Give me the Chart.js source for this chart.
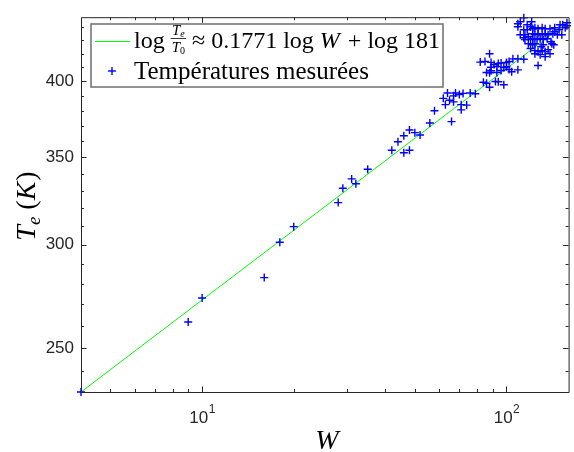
<!DOCTYPE html>
<html lang="fr">
<head>
<meta charset="UTF-8">
<title>Te en fonction de W</title>
<script src="https://cdn.jsdelivr.net/npm/chart.js"></script>
<style>
  html, body { margin: 0; padding: 0; background: #fff; }
</style>
</head>
<body>
<canvas id="tempChart" width="574" height="452"></canvas>
<script>
  // mesures (W, Te)
  const wMeasured = [
    4, 9, 10, 16, 18, 20, 28, 29, 31, 32, 35, 42, 44, 46, 46, 48, 48, 50, 52, 56, 58, 66,
    62, 64, 63, 65, 67, 68, 67, 70, 71, 71, 72, 74, 76, 79,
    88, 82, 85, 89, 91, 94, 96, 93, 89, 89, 86, 88, 93, 96, 98, 100, 102, 105, 109, 114,
    102, 104, 109, 84, 86, 92, 94, 88, 98, 100,
    114, 109, 111, 109, 117, 120, 114, 117, 122, 124, 127, 131, 134, 139, 144, 150, 153, 158,
    111, 115, 118, 122, 124, 127, 131, 134, 137, 142, 147, 152,
    115, 120, 122, 126, 129, 132, 136, 140, 118, 122, 124, 132, 141, 143,
    120, 124, 127, 131, 134, 137, 124, 129, 134, 139, 127, 144, 149, 156, 121, 114, 158, 130
  ];
  const tMeasured = [
    231.4, 261.8, 273.1, 283.1, 301.3, 309.7, 323.1, 331.4, 336.9, 334.0, 342.7, 354.3, 359.7, 363.5, 352.8, 367.2, 354.3, 365.5, 364.0, 371.8, 379.9, 372.7,
    388.3, 392.0, 384.0, 387.0, 390.0, 392.0, 385.9, 390.9, 384.0, 380.5, 391.7, 383.7, 392.0, 391.5,
    420.0, 413.9, 414.3, 413.7, 412.2, 412.8, 413.3, 410.7, 410.2, 407.6, 406.4, 406.2, 406.4, 407.8, 410.0, 413.6, 414.3, 416.3, 416.3, 416.0,
    408.5, 406.9, 408.3, 399.5, 398.8, 400.0, 399.8, 396.0, 397.7, 410.5,
    447.5, 442.9, 444.4, 440.5, 442.1, 440.5, 438.2, 438.2, 439.0, 439.8, 439.0, 439.8, 439.0, 439.0, 439.8, 442.1, 442.1, 443.6,
    434.4, 434.4, 432.8, 435.1, 434.4, 435.1, 434.4, 435.1, 434.4, 435.1, 434.4, 434.4,
    430.6, 430.6, 431.3, 430.6, 431.3, 430.6, 431.3, 429.0, 427.5, 426.8, 427.5, 426.8, 427.5, 426.8,
    423.9, 422.4, 421.6, 422.4, 421.6, 423.1, 420.1, 419.4, 417.9, 420.1, 411.4, 436.7, 438.2, 439.8, 444.4, 432.1, 441.3, 425.3
  ];

  // droite de regression : log(Te/T0) = 0.1771 log W + log 181
  const fitW = [4, 160];
  const fitT = [231.4, 444.7];

  const xMajorTicks = [10, 100];
  const xMinorTicks = [5, 6, 7, 8, 9, 20, 30, 40, 50, 60, 70, 80, 90];
  const yMajorTicks = [250, 300, 350, 400];
  const yMinorTicks = [240, 260, 270, 280, 290, 310, 320, 330, 340, 360, 370, 380, 390, 410, 420, 430, 440];

  const axisColor = '#262626';
  const serif = '"Liberation Serif", "DejaVu Serif", serif';
  const sans = '"Liberation Sans", Arial, sans-serif';

  function drawPieces(ctx, x, y, pieces) {
    pieces.forEach(p => {
      ctx.font = p.font;
      ctx.fillText(p.text, x, y + (p.dy || 0));
      x += ctx.measureText(p.text).width + (p.gap || 0);
    });
    return x;
  }

  function piecesWidth(ctx, pieces) {
    let w = 0;
    pieces.forEach(p => { ctx.font = p.font; w += ctx.measureText(p.text).width + (p.gap || 0); });
    return w;
  }

  const frame = {
    id: 'frame',
    afterDraw(chart) {
      const { ctx, chartArea: a, scales: { x, y } } = chart;
      ctx.save();
      ctx.strokeStyle = axisColor;
      ctx.lineWidth = 1;
      ctx.beginPath();
      ctx.rect(a.left + 0.5, a.top + 0.5, a.right - a.left, a.bottom - a.top);
      ctx.stroke();

      const seg = (x1, y1, x2, y2) => { ctx.beginPath(); ctx.moveTo(x1, y1); ctx.lineTo(x2, y2); ctx.stroke(); };
      const tickX = (v, len) => {
        const px = Math.round(x.getPixelForValue(v)) + 0.5;
        seg(px, a.bottom, px, a.bottom - len);
        seg(px, a.top, px, a.top + len);
      };
      const tickY = (v, len) => {
        const py = Math.round(y.getPixelForValue(v)) + 0.5;
        seg(a.left, py, a.left + len, py);
        seg(a.right, py, a.right - len, py);
      };
      xMajorTicks.forEach(v => tickX(v, 5.5));
      xMinorTicks.forEach(v => tickX(v, 3));
      yMajorTicks.forEach(v => tickY(v, 5.5));
      yMinorTicks.forEach(v => tickY(v, 3));

      // x tick labels 10^n
      ctx.fillStyle = axisColor;
      ctx.textBaseline = 'alphabetic';
      xMajorTicks.forEach(v => {
        const px = x.getPixelForValue(v);
        const exp = String(Math.round(Math.log10(v)));
        ctx.font = '17px ' + sans;
        const wb = ctx.measureText('10').width;
        ctx.font = '12px ' + sans;
        const we = ctx.measureText(exp).width;
        const x0 = px - (wb + we) / 2;
        ctx.font = '17px ' + sans;
        ctx.fillText('10', x0, 423);
        ctx.font = '12px ' + sans;
        ctx.fillText(exp, x0 + wb + 0.5, 413);
      });

      // axis titles
      ctx.fillStyle = '#000';
      ctx.font = 'italic 28px ' + serif;
      ctx.textAlign = 'center';
      ctx.fillText('W', (a.left + a.right) / 2 + 2, 449);
      ctx.textAlign = 'left';

      const yTitle = [
        { text: 'T', font: 'italic 28px ' + serif },
        { text: 'e', font: 'italic 19px ' + serif, dy: 5, gap: 7 },
        { text: '(', font: '28px ' + serif },
        { text: 'K', font: 'italic 28px ' + serif, gap: 1 },
        { text: ')', font: '28px ' + serif }
      ];
      ctx.save();
      ctx.translate(35, 206);
      ctx.rotate(-Math.PI / 2);
      drawPieces(ctx, -piecesWidth(ctx, yTitle) / 2, 0, yTitle);
      ctx.restore();

      // legend
      ctx.fillStyle = '#fff';
      ctx.fillRect(91, 24, 352, 63);
      ctx.strokeStyle = '#6e6e6e';
      ctx.lineWidth = 1.5;
      ctx.strokeRect(91, 24, 352, 63);

      ctx.strokeStyle = '#00ff00';
      ctx.lineWidth = 1;
      seg(95, 41.5, 130, 41.5);
      ctx.strokeStyle = '#0000ff';
      ctx.lineWidth = 1.4;
      seg(108, 71, 116, 71);
      seg(112, 67, 112, 75);

      ctx.fillStyle = '#000';
      let cx = drawPieces(ctx, 134, 48, [{ text: 'log', font: '24px ' + serif, gap: 6 }]);
      const num = [{ text: 'T', font: 'italic 15px ' + serif }, { text: 'e', font: 'italic 10px ' + serif, dy: 2 }];
      const den = [{ text: 'T', font: 'italic 15px ' + serif }, { text: '0', font: '10px ' + serif, dy: 2 }];
      const fw = Math.max(piecesWidth(ctx, num), piecesWidth(ctx, den)) + 2;
      drawPieces(ctx, cx + (fw - piecesWidth(ctx, num)) / 2, 35, num);
      drawPieces(ctx, cx + (fw - piecesWidth(ctx, den)) / 2, 52, den);
      ctx.fillRect(cx, 38, fw, 0.8);
      cx += fw;
      drawPieces(ctx, cx, 48, [
        { text: ' \u2248 0.1771 log ', font: '24px ' + serif },
        { text: 'W', font: 'italic 24px ' + serif, gap: 2 },
        { text: ' + log 181', font: '24px ' + serif }
      ]);
      drawPieces(ctx, 134, 79, [{ text: 'Températures mesurées', font: '25px ' + serif }]);
      ctx.restore();
    }
  };

  const measured = wMeasured.map((w, i) => ({ x: w, y: tMeasured[i] }));
  const fit = fitW.map((w, i) => ({ x: w, y: fitT[i] }));

  new Chart(document.getElementById('tempChart'), {
    type: 'scatter',
    data: {
      datasets: [
        {
          label: 'Températures mesurées',
          data: measured,
          pointStyle: 'cross',
          pointRadius: 4,
          pointHoverRadius: 4,
          borderColor: '#0000ff',
          backgroundColor: '#0000ff',
          borderWidth: 1.4,
          clip: false,
          order: 0
        },
        {
          type: 'line',
          label: 'fit',
          data: fit,
          showLine: true,
          borderColor: '#00ff00',
          borderWidth: 1,
          pointRadius: 0,
          fill: false,
          order: 1
        }
      ]
    },
    options: {
      responsive: false,
      animation: false,
      events: [],
      layout: { padding: { top: 15.5, right: 0, left: 0, bottom: 0 } },
      plugins: { legend: { display: false }, tooltip: { enabled: false } },
      scales: {
        x: {
          type: 'logarithmic',
          min: 4,
          max: 160,
          grid: { display: false, drawTicks: false },
          border: { display: false },
          ticks: { display: false },
          afterBuildTicks: s => { s.ticks = xMajorTicks.map(v => ({ value: v })); },
          afterFit: s => { s.height = 60; }
        },
        y: {
          type: 'logarithmic',
          min: 231.4,
          max: 448,
          grid: { display: false, drawTicks: false },
          border: { display: false },
          ticks: {
            color: axisColor,
            padding: 7,
            font: { family: sans, size: 17 },
            callback: v => String(v)
          },
          afterBuildTicks: s => { s.ticks = yMajorTicks.map(v => ({ value: v })); },
          afterFit: s => { s.width = 81; }
        }
      }
    },
    plugins: [frame]
  });
</script>
</body>
</html>
